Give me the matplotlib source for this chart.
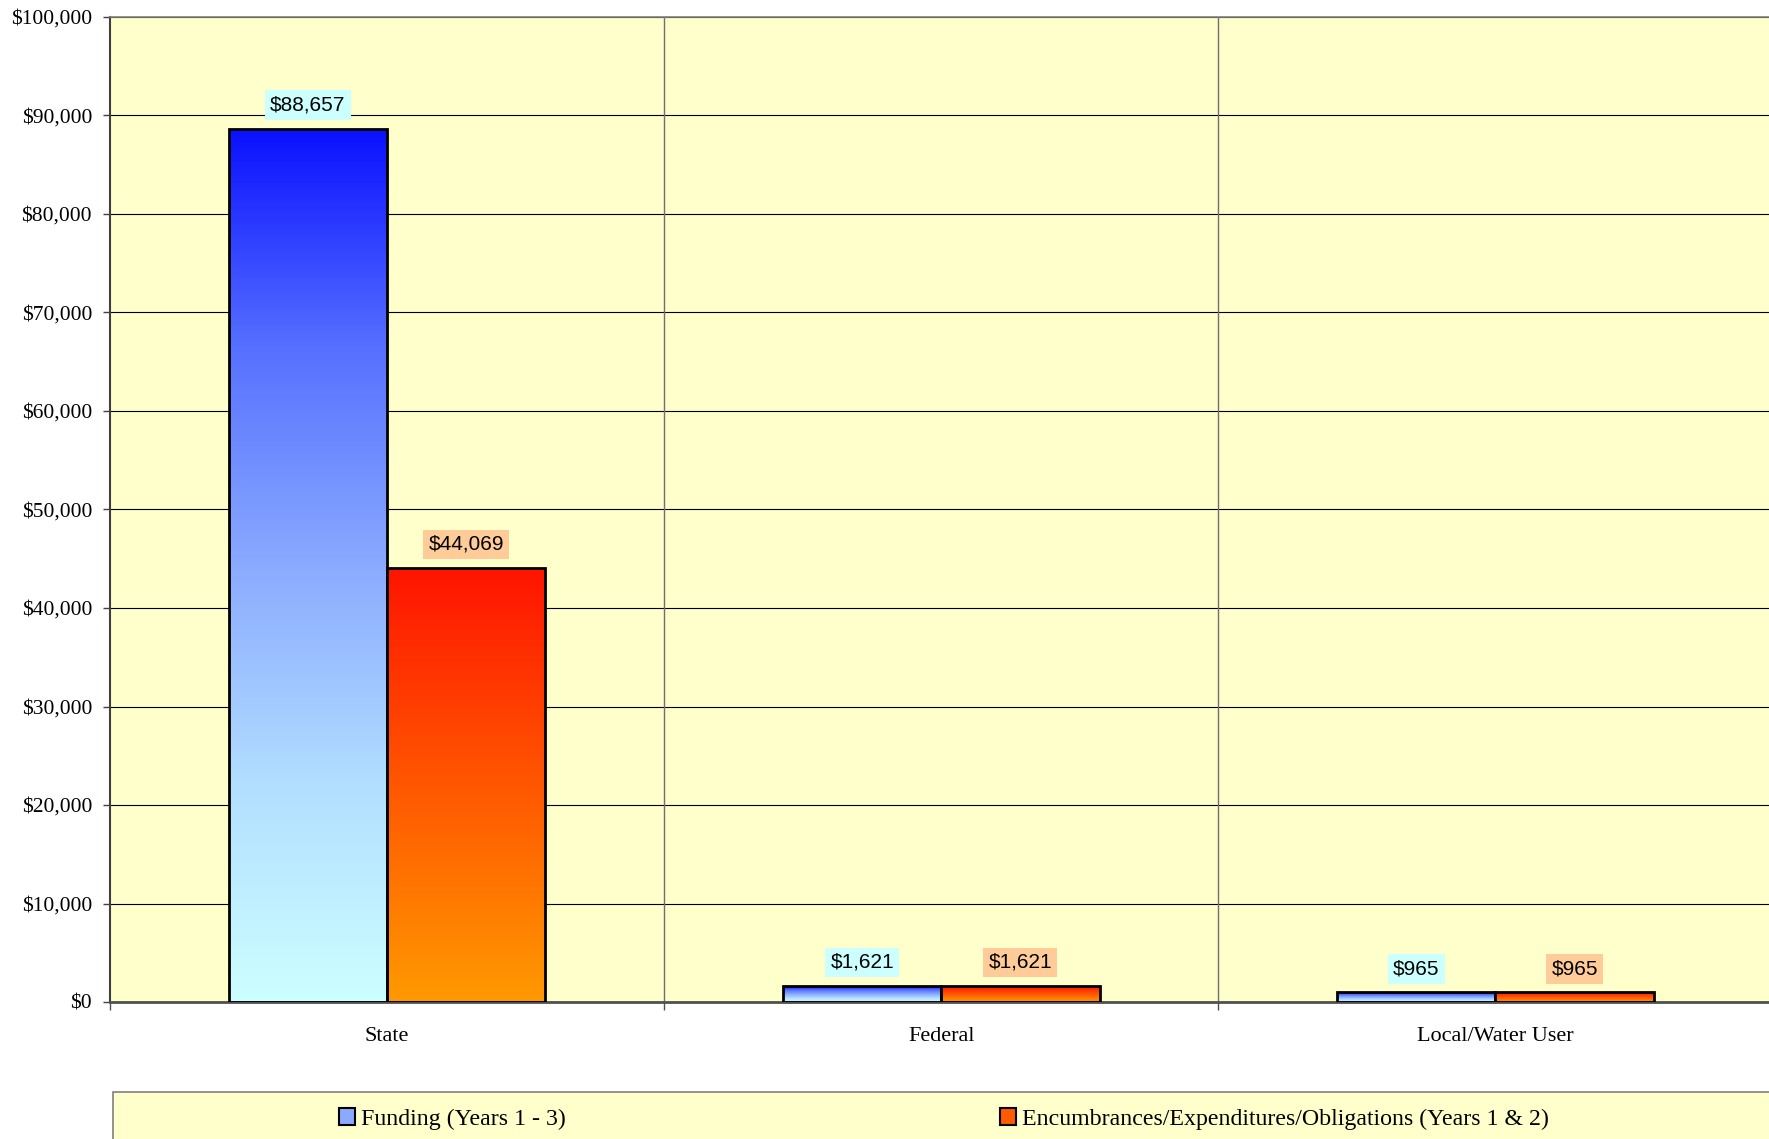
import numpy as np
import matplotlib
matplotlib.use("Agg")
import matplotlib.pyplot as plt
from matplotlib.colors import LinearSegmentedColormap
from matplotlib.patches import Patch, Rectangle
from matplotlib.ticker import FuncFormatter

categories = ["State", "Federal", "Local/Water User"]
funding = [88657, 1621, 965]
spent = [44069, 1621, 965]
series_names = ["Funding (Years 1 - 3)",
                "Encumbrances/Expenditures/Obligations (Years 1 & 2)"]

blue_cmap = LinearSegmentedColormap.from_list(
    "blue", [(0, "#CCFFFF"), (0.25, "#B2DEFF"), (0.5, "#8AAAFF"), (0.75, "#5670FF"), (1, "#0A10FF")])
orange_cmap = LinearSegmentedColormap.from_list("orange", ["#FF9900", "#FF1400"])

serif = ["Liberation Serif", "DejaVu Serif"]
sans = ["Liberation Sans", "DejaVu Sans"]

fig = plt.figure(figsize=(17.69, 11.39), dpi=100)
ax = fig.add_axes([110 / 1769, 1 - 1002 / 1139, 1 - 110 / 1769 + 0.002, (1002 - 17) / 1139])
ax.set_facecolor("#FFFFCC")

x = np.arange(len(categories))
w = 1 / 3.5
grad = np.linspace(0, 1, 256).reshape(-1, 1)


def gradient_bars(xpos, values, cmap, box_color):
    bars = ax.bar(xpos, values, w, facecolor="none", edgecolor="black",
                  linewidth=2, zorder=3)
    for b, v in zip(bars, values):
        im = ax.imshow(grad, extent=[b.get_x(), b.get_x() + b.get_width(), 0, b.get_height()],
                       origin="lower", aspect="auto", cmap=cmap, zorder=2.5)
        im.set_clip_path(b)
        ax.annotate("${:,.0f}".format(v), (b.get_x() + b.get_width() / 2, v),
                    xytext=(0, 17), textcoords="offset points", ha="center", va="center",
                    fontsize=15, family=sans, zorder=4,
                    bbox=dict(boxstyle="square,pad=0.25", facecolor=box_color, edgecolor="none"))
    return bars


gradient_bars(x - w / 2, funding, blue_cmap, "#CCFFFF")
gradient_bars(x + w / 2, spent, orange_cmap, "#FFCC99")

ax.set_xlim(-0.5, 2.5)
ax.set_ylim(0, 100000)
ax.set_yticks(np.arange(0, 100001, 10000))
ax.yaxis.set_major_formatter(FuncFormatter(lambda v, p: "${:,.0f}".format(v)))
ax.yaxis.grid(True, color="black", linewidth=0.8)
ax.set_axisbelow(True)
for b in [0.5, 1.5]:
    ax.axvline(b, color="#707070", linewidth=1, zorder=1)

ax.set_xticks([-0.5, 0.5, 1.5, 2.5])
ax.set_xticklabels([])
ax.set_xticks(x, minor=True)
ax.set_xticklabels(categories, minor=True, fontsize=16, family=serif)
ax.tick_params(axis="x", which="minor", length=0, pad=18)
ax.tick_params(axis="x", which="major", length=6, width=1, color="#505050")
ax.tick_params(axis="y", length=5, width=1, color="#404040", pad=8, labelsize=15.5)
for lab in ax.get_yticklabels():
    lab.set_family(serif)

ax.spines["left"].set_color("#404040")
ax.spines["left"].set_linewidth(1.5)
ax.spines["bottom"].set_color("#505050")
ax.spines["bottom"].set_linewidth(2)
ax.spines["top"].set_color("#808080")
ax.spines["top"].set_linewidth(1.2)
ax.spines["right"].set_visible(False)

# legend box at the bottom (runs off the figure edge)
fig.add_artist(Rectangle((113 / 1769, -0.05), 1.0, 0.05 + 1 - 1092 / 1139,
                         transform=fig.transFigure, facecolor="#FFFFCC",
                         edgecolor="#808080", linewidth=1.2))
handles = [Patch(facecolor="#8AAAFF", edgecolor="black", linewidth=1.5),
           Patch(facecolor="#FF5A00", edgecolor="black", linewidth=1.5)]
fig.legend(handles, series_names, loc="center", bbox_to_anchor=(944 / 1769, 1 - 1119 / 1139),
           ncol=2, frameon=False, prop={"family": serif, "size": 17.2},
           handlelength=0.67, handleheight=0.67, handletextpad=0.25, columnspacing=18.2)

fig.savefig("out.png", dpi=100, facecolor="white")
